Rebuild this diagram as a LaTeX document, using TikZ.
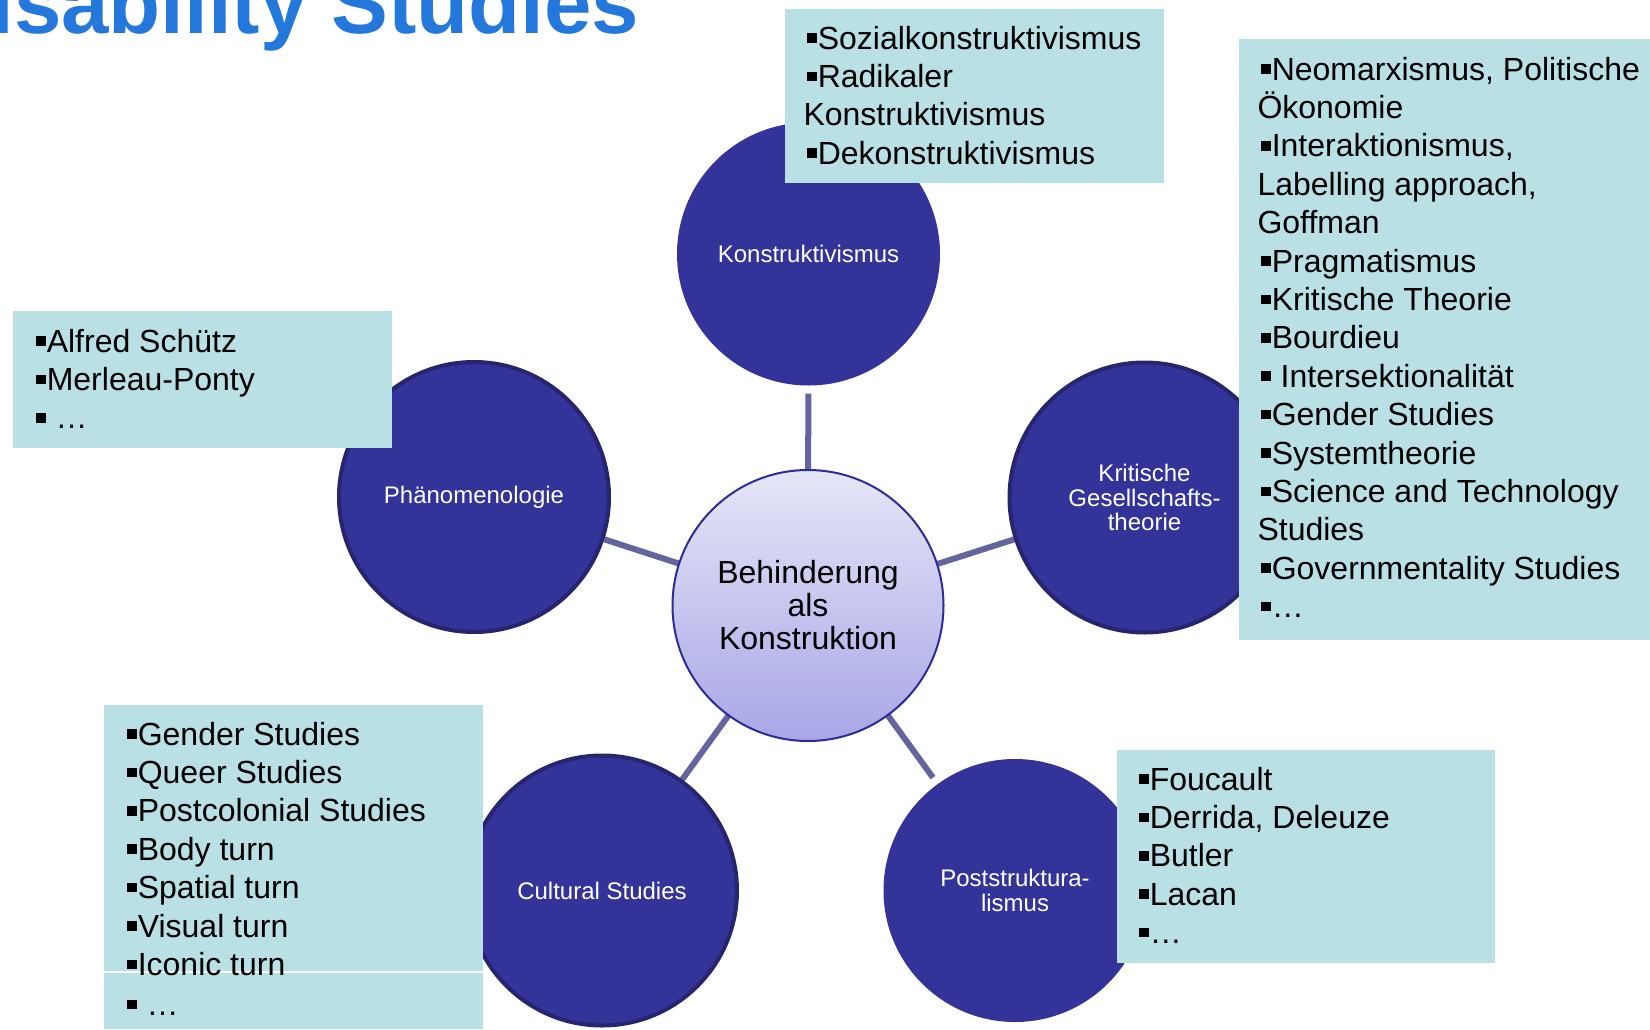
\documentclass[tikz,border=0pt]{standalone}
\usepackage{fontspec}
\setmainfont{Liberation Sans}
\usetikzlibrary{backgrounds}
\definecolor{titleblue}{RGB}{36,120,220}
\definecolor{circfill}{RGB}{51,51,153}
\definecolor{circedge}{RGB}{38,38,112}
\definecolor{boxfill}{RGB}{185,224,228}
\definecolor{connc}{RGB}{100,100,158}
\definecolor{ctrtop}{RGB}{230,230,248}
\definecolor{ctrbot}{RGB}{168,166,230}
\definecolor{ctredge}{RGB}{44,44,150}
\newcommand\bul{\hspace{1.75pt}\rule[3.1pt]{4.8pt}{4.8pt}\hspace{0.6pt}}
\newcommand\fs{\rule{0pt}{15pt}}
\begin{document}
\begin{tikzpicture}[x=0.5pt,y=-0.5pt,
  ctr/.style={circle, minimum size=135.5pt, inner sep=0pt, outer sep=0pt, draw=ctredge, line width=1pt, top color=ctrtop, bottom color=ctrbot, align=center, font=\fontsize{16pt}{16.5pt}\selectfont},
  plaincirc/.style={circle, minimum size=131.5pt, inner sep=0pt, outer sep=0pt, fill=circfill, text=white, align=center, font=\fontsize{12pt}{12.25pt}\selectfont},
  rimcirc/.style={plaincirc, minimum size=135pt, draw=circedge, line width=2pt, outer sep=1pt},
  conn/.style={draw=connc, line width=3pt},
  infotext/.style={anchor=north west, inner sep=0pt, outer sep=0pt, align=left, font=\fontsize{16pt}{19.2pt}\selectfont}
]
\useasboundingbox (0,0) rectangle (1650,1029);
\clip (0,0) rectangle (1650,1029);

% title
\node[anchor=base west, inner sep=0pt, text=titleblue, font=\bfseries\fontsize{42.6pt}{42.6pt}\selectfont] (title) at (-10,33) {isability Studies};

% circles
\node[ctr] (c) at (808,605.5) {Behinderung\\als\\Konstruktion};
\node[plaincirc] (k) at (808.5,254) {Konstruktivismus};
\node[rimcirc] (p) at (474,497) {Phänomenologie};
\node[rimcirc] (g) at (1144.5,497.5) {Kritische\\Gesellschafts-\\theorie};
\node[rimcirc] (cs) at (602,890.5) {Cultural Studies};
\node[plaincirc] (ps) at (1015,890.5) {Poststruktura-\\lismus};

% connectors
\begin{scope}[on background layer]
\draw[conn, shorten >=4pt] (c) -- (k);
\draw[conn] (c) -- (p);
\draw[conn] (c) -- (g);
\draw[conn] (c) -- (cs);
\draw[conn, shorten >=4pt] (c) -- (ps);
\end{scope}

% boxes
\fill[boxfill] (785,9) rectangle (1164,183);
\fill[boxfill] (1238.5,39) rectangle (1650,640);
\fill[boxfill] (13,311) rectangle (392,448);
\fill[boxfill] (104,705) rectangle (483,1029);
\fill[boxfill] (1117,750) rectangle (1495,963);
\draw[white, line width=0.75pt] (104,972) -- (483,972);

% box texts
\node[infotext] (tk) at (803.5,19) {\fs\bul Sozialkonstruktivismus\\\bul Radikaler\\Konstruktivismus\\\bul Dekonstruktivismus};
\node[infotext] (tg) at (1257.5,50) {\fs\bul Neomarxismus, Politische\\Ökonomie\\\bul Interaktionismus,\\Labelling approach,\\Goffman\\\bul Pragmatismus\\\bul Kritische Theorie\\\bul Bourdieu\\\bul\ Intersektionalität\\\bul Gender Studies\\\bul Systemtheorie\\\bul Science and Technology\\Studies\\\bul Governmentality Studies\\\bul …};
\node[infotext] (tp) at (32.5,322) {\fs\bul Alfred Schütz\\\bul Merleau-Ponty\\\bul\ …};
\node[infotext] (tcs) at (123.5,715) {\fs\bul Gender Studies\\\bul Queer Studies\\\bul Postcolonial Studies\\\bul Body turn\\\bul Spatial turn\\\bul Visual turn\\\bul Iconic turn\\[0.8pt]\bul\ …};
\node[infotext] (tps) at (1135.5,760) {\fs\bul Foucault\\\bul Derrida, Deleuze\\\bul Butler\\\bul Lacan\\\bul …};
\end{tikzpicture}
\end{document}
